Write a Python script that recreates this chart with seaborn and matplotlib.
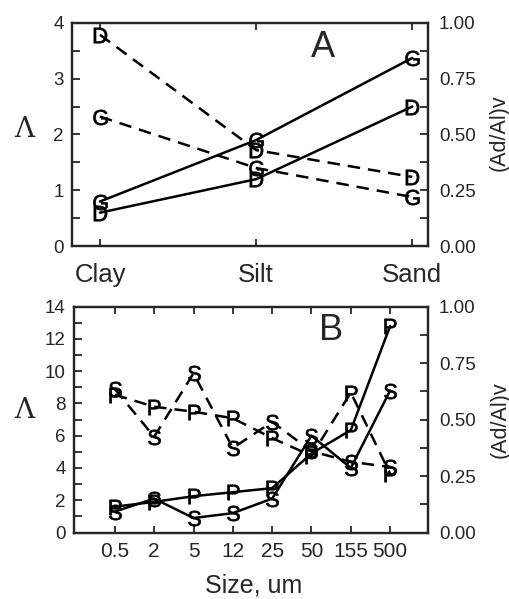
import numpy as np
import matplotlib
matplotlib.use("Agg")
import matplotlib.pyplot as plt
from matplotlib.ticker import MultipleLocator, FormatStrFormatter
import seaborn as sns

# Panel A: texture classes
texture = ['Clay', 'Silt', 'Sand']
lam_g = [0.8, 1.9, 3.37]
lam_d = [0.6, 1.2, 2.5]
ratio_g = [0.58, 0.35, 0.22]
ratio_d = [0.946, 0.43, 0.31]

# Panel B: particle size
sizes = ['0.5', '2', '5', '12', '25', '50', '155', '500']
lam_p = [1.6, 1.9, 2.25, 2.5, 2.75, 4.9, 6.35, 12.8]
lam_s = [1.3, 2.1, 0.9, 1.2, 2.1, 6.0, 4.0, 8.8]
ratio_p = [0.61, 0.557, 0.535, 0.506, 0.418, 0.34, 0.62, 0.26]
ratio_s = [0.635, 0.424, 0.705, 0.374, 0.49, 0.36, 0.313, 0.29]

sns.set_style("ticks")
plt.rcParams['font.family'] = ['Liberation Sans', 'DejaVu Sans']
plt.rcParams['mathtext.fontset'] = 'custom'
plt.rcParams['mathtext.rm'] = 'Liberation Sans'
plt.rcParams['xtick.direction'] = 'in'
plt.rcParams['ytick.direction'] = 'in'
plt.rcParams['axes.linewidth'] = 1.6

fig = plt.figure(figsize=(5.1, 5.99), dpi=100)

dash = (0, (5, 3.2))
mk = dict(markersize=11, color='black', linewidth=1.8, legend=False,
          markerfacecolor='black', markeredgecolor='black', markeredgewidth=0.5)


def style_axes(ax, ax2, ymax, ymajor, yminor, xlabels, xsize, xpad):
    ax.set_ylim(0, ymax)
    ax2.set_ylim(0, 1)
    ax.yaxis.set_major_locator(MultipleLocator(ymajor))
    ax.yaxis.set_minor_locator(MultipleLocator(yminor))
    ax2.yaxis.set_major_locator(MultipleLocator(0.25))
    ax2.yaxis.set_minor_locator(MultipleLocator(0.125))
    ax2.yaxis.set_major_formatter(FormatStrFormatter('%.2f'))
    ax.set_xticks(np.arange(len(xlabels)))
    ax.set_xticklabels(xlabels, fontsize=xsize)
    ax.tick_params(axis='x', top=True, length=5, width=1.3, pad=xpad)
    ax.tick_params(axis='y', which='both', length=6, width=1.3, labelsize=13.5, pad=6)
    ax2.tick_params(axis='y', which='both', length=6, width=1.3, labelsize=13.5, pad=8)
    for a in (ax, ax2):
        for s in a.spines.values():
            s.set_visible(True)
            s.set_linewidth(1.6)
    ax.set_ylabel('Λ', rotation=0, fontsize=20, family=['DejaVu Serif'])
    ax2.set_ylabel('(Ad/Al)v', fontsize=15.5)


# ---- Panel A ----
axA = fig.add_axes([0.141, 0.589, 0.698, 0.373])
axA2 = axA.twinx()
xa = np.arange(len(texture))
sns.lineplot(x=xa, y=lam_g, ax=axA, marker='$\\mathrm{G}$', **mk)
sns.lineplot(x=xa, y=lam_d, ax=axA, marker='$\\mathrm{D}$', **mk)
sns.lineplot(x=xa, y=ratio_g, ax=axA2, marker='$\\mathrm{G}$', linestyle=dash, **mk)
sns.lineplot(x=xa, y=ratio_d, ax=axA2, marker='$\\mathrm{D}$', linestyle=dash, **mk)
axA.set_xlim(-0.18, 2.1)
style_axes(axA, axA2, 4, 1, 0.5, texture, 18.5, 12)
axA.yaxis.set_label_coords(-0.135, 0.46)
axA2.yaxis.set_label_coords(1.172, 0.51)
axA.text(0.705, 0.89, 'A', transform=axA.transAxes, fontsize=26,
         ha='center', va='center')

# ---- Panel B ----
axB = fig.add_axes([0.145, 0.111, 0.694, 0.377])
axB2 = axB.twinx()
xb = np.arange(len(sizes))
sns.lineplot(x=xb, y=lam_p, ax=axB, marker='$\\mathrm{P}$', **mk)
sns.lineplot(x=xb, y=lam_s, ax=axB, marker='$\\mathrm{S}$', **mk)
sns.lineplot(x=xb, y=ratio_p, ax=axB2, marker='$\\mathrm{P}$', linestyle=dash, **mk)
sns.lineplot(x=xb, y=ratio_s, ax=axB2, marker='$\\mathrm{S}$', linestyle=dash, **mk)
axB.set_xlim(-1.04, 7.96)
style_axes(axB, axB2, 14, 2, 1, sizes, 15, 7)
axB.set_xlabel('Size, um', fontsize=18)
axB.xaxis.set_label_coords(0.508, -0.18)
axB.yaxis.set_label_coords(-0.141, 0.48)
axB2.yaxis.set_label_coords(1.175, 0.50)
axB.text(0.726, 0.894, 'B', transform=axB.transAxes, fontsize=26,
         ha='center', va='center')

fig.savefig('out.png', dpi=100)
